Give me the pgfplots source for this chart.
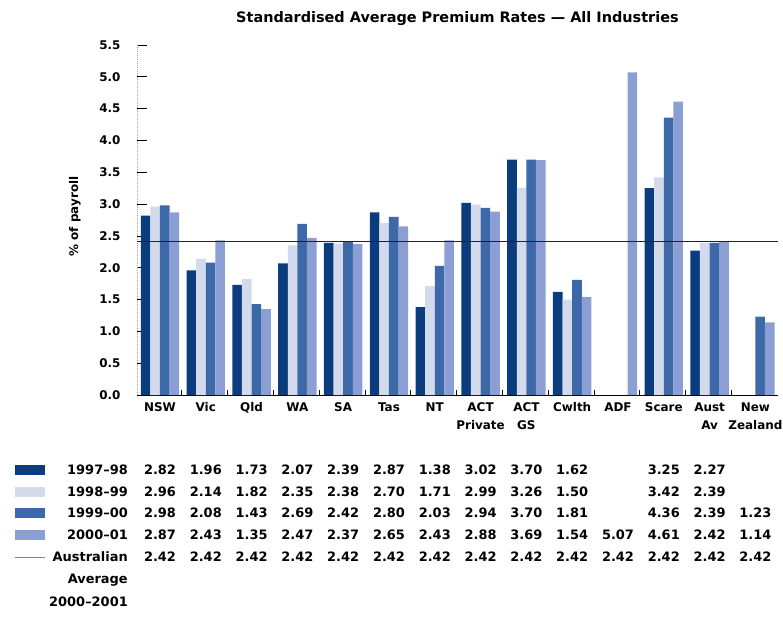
\documentclass[border=0pt]{standalone}
\usepackage{pgfplots}
\pgfplotsset{compat=1.18}
\usepackage{pgfplotstable}
\usepackage{fontspec}
\setmainfont{DejaVu Sans}

\definecolor{cA}{HTML}{0B3D7E}
\definecolor{cB}{HTML}{D2DAEC}
\definecolor{cC}{HTML}{3D69A8}
\definecolor{cD}{HTML}{8C9FD5}
\definecolor{avg}{HTML}{222222}

% premium rates, % of payroll; nan = not available
\pgfplotstableread{
idx v97  v98  v99  v00  avg
0   2.82 2.96 2.98 2.87 2.42
1   1.96 2.14 2.08 2.43 2.42
2   1.73 1.82 1.43 1.35 2.42
3   2.07 2.35 2.69 2.47 2.42
4   2.39 2.38 2.42 2.37 2.42
5   2.87 2.70 2.80 2.65 2.42
6   1.38 1.71 2.03 2.43 2.42
7   3.02 2.99 2.94 2.88 2.42
8   3.70 3.26 3.70 3.69 2.42
9   1.62 1.50 1.81 1.54 2.42
10  nan  nan  nan  5.07 2.42
11  3.25 3.42 4.36 4.61 2.42
12  2.27 2.39 2.39 2.42 2.42
13  nan  nan  1.23 1.14 2.42
}\rates

\newcommand\lab{\bfseries\fontsize{12}{18}\selectfont}
\newcommand\rowlab{\bfseries\fontsize{13}{15}\selectfont}

\pgfplotsset{
  tablerow/.style={draw=none, mark=none, forget plot,
    nodes near coords={\pgfmathprintnumber[fixed,fixed zerofill,precision=2]{\pgfplotspointmeta}},
    every node near coord/.style={anchor=center, font=\rowlab, inner sep=0pt},
    point meta=explicit},
}

\begin{document}
\begin{tikzpicture}
\begin{axis}[
  x=45.8bp, y=63.64bp,
  xmin=-0.5, xmax=13.49, ymin=0, ymax=5.5,
  clip=false,
  axis x line=bottom, axis y line=left,
  axis line style={-},
  y axis line style={draw=gray!70, densely dotted, line width=1pt},
  x axis line style={black, line width=0.8pt},
  tick align=inside,
  xtick={0,...,13},
  xticklabels={NSW, Vic, Qld, WA, SA, Tas, NT, ACT\\Private, ACT\\GS, Cwlth, ADF, Scare, Aust\\Av, New\\Zealand},
  xticklabel style={align=center, font=\lab, yshift=-4bp},
  major x tick style={draw=none},
  minor xtick={0.48,1.48,...,12.48},
  minor x tick style={black, line width=1pt},
  minor tick length=5bp,
  ytick={0,0.5,...,5.5},
  major tick length=10bp,
  y tick style={black, line width=0.8pt},
  yticklabel style={font=\lab, xshift=-13bp},
  /pgf/number format/assume math mode=true,
  yticklabel={\pgfmathprintnumber[fixed,fixed zerofill,precision=1]{\tick}},
  ylabel={\% of payroll},
  ylabel style={font=\lab, at={(axis description cs:-0.097,0.51)}, anchor=center, rotate=0},
  title={Standardised Average Premium Rates --- All Industries},
  title style={font=\bfseries\fontsize{14.5}{17}\selectfont, at={(axis description cs:0.5,1)}, anchor=south, yshift=10bp},
]
% bars
\addplot[ybar, bar width=9.6bp, bar shift=-14.4bp, fill=cA, draw=none] table[x=idx, y=v97] {\rates};
\addplot[ybar, bar width=9.6bp, bar shift=-4.8bp, fill=cB, draw=none] table[x=idx, y=v98] {\rates};
\addplot[ybar, bar width=9.6bp, bar shift=4.8bp, fill=cC, draw=none] table[x=idx, y=v99] {\rates};
\addplot[ybar, bar width=9.6bp, bar shift=14.4bp, fill=cD, draw=none] table[x=idx, y=v00] {\rates};
% Australian average line
\addplot[avg, line width=0.8pt, forget plot] coordinates {(-0.5,2.42) (13.49,2.42)};

% data table rows
\addplot[tablerow] table[x=idx, y expr={\thisrow{v97}*0-1.178}, meta=v97] {\rates};
\addplot[tablerow] table[x=idx, y expr={\thisrow{v98}*0-1.524}, meta=v98] {\rates};
\addplot[tablerow] table[x=idx, y expr={\thisrow{v99}*0-1.854}, meta=v99] {\rates};
\addplot[tablerow] table[x=idx, y expr={\thisrow{v00}*0-2.200}, meta=v00] {\rates};
\addplot[tablerow] table[x=idx, y expr={\thisrow{avg}*0-2.546}, meta=avg] {\rates};

% row keys and names
\fill[cA] (axis cs:-3.166,-1.178) ++(0bp,-5bp) rectangle ++(30bp,10bp);
\fill[cB] (axis cs:-3.166,-1.524) ++(0bp,-5bp) rectangle ++(30bp,10bp);
\fill[cC] (axis cs:-3.166,-1.854) ++(0bp,-5bp) rectangle ++(30bp,10bp);
\fill[cD] (axis cs:-3.166,-2.200) ++(0bp,-5bp) rectangle ++(30bp,10bp);
\draw[gray, line width=1pt] (axis cs:-3.166,-2.546) -- ++(30bp,0bp);
\node[anchor=east, font=\rowlab, inner sep=0pt] at (axis cs:-0.699,-1.178) {1997--98};
\node[anchor=east, font=\rowlab, inner sep=0pt] at (axis cs:-0.699,-1.524) {1998--99};
\node[anchor=east, font=\rowlab, inner sep=0pt] at (axis cs:-0.699,-1.854) {1999--00};
\node[anchor=east, font=\rowlab, inner sep=0pt] at (axis cs:-0.699,-2.200) {2000--01};
\node[anchor=east, font=\rowlab, inner sep=0pt] at (axis cs:-0.699,-2.546) {Australian};
\node[anchor=east, font=\rowlab, inner sep=0pt] at (axis cs:-0.699,-2.907) {Average};
\node[anchor=east, font=\rowlab, inner sep=0pt] at (axis cs:-0.699,-3.253) {2000--2001};

\coordinate (bbA) at (axis cs:-3.493,-3.504);
\coordinate (bbB) at (axis cs:13.603,6.207);
\end{axis}
\pgfresetboundingbox
\path[use as bounding box] (bbA) rectangle (bbB);
\end{tikzpicture}
\end{document}
